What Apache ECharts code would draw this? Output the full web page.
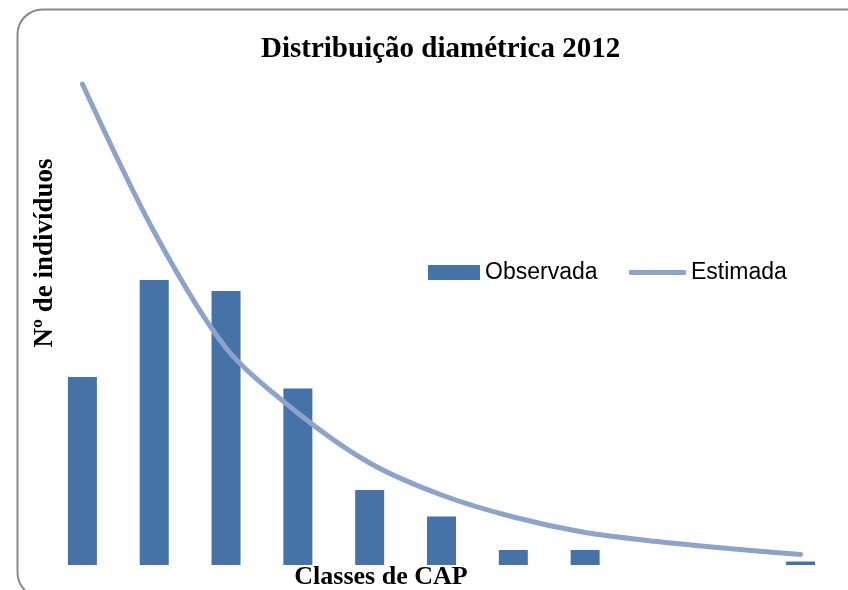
<!DOCTYPE html>
<html>
<head>
<meta charset="utf-8">
<script src="https://cdn.jsdelivr.net/npm/echarts@6/dist/echarts.min.js"></script>
<style>
html, body { margin: 0; padding: 0; background: #fff; }
#chart { width: 848px; height: 590px; }
</style>
</head>
<body>
<div id="chart"></div>
<script>
// classes de CAP (sem rótulos visíveis no gráfico original)
const classes = ['1', '2', '3', '4', '5', '6', '7', '8', '9', '10', '11'];
// frequência observada por classe
const observada = [37.6, 57, 54.8, 35.3, 15, 9.7, 3, 3, 0, 0, 0.7];
// frequência estimada (ajuste)
const estimada = [96.2, 66.6, 43.4, 30.4, 20.4, 14, 9.6, 6.5, 4.7, 3.3, 2.1];

const serif = 'Liberation Serif';
const sans = 'Liberation Sans';
const barColor = '#4572a7';
const lineColor = '#8ca4cc';

let chart = echarts.init(document.getElementById('chart'));
chart.setOption({
    animation: false,
    title: {
        text: 'Distribuição diamétrica 2012',
        left: 261,
        top: 35,
        padding: 0,
        textStyle: {
            fontFamily: serif,
            fontWeight: 'bold',
            fontSize: 29,
            color: '#000'
        }
    },
    legend: [
        {
            left: 428,
            top: 261,
            padding: 0,
            itemWidth: 52,
            itemHeight: 15,
            textStyle: { fontFamily: sans, fontSize: 23, color: '#000' },
            data: [{ name: 'Observada', icon: 'rect' }]
        },
        {
            left: 629,
            top: 261,
            padding: 0,
            itemWidth: 57,
            itemHeight: 5,
            textStyle: { fontFamily: sans, fontSize: 23, color: '#000' },
            data: [{ name: 'Estimada', icon: 'roundRect' }]
        }
    ],
    grid: {
        left: 46.5,
        right: 11.5,
        top: 65,
        bottom: 25
    },
    xAxis: {
        type: 'category',
        data: classes,
        axisLine: { show: false },
        axisTick: { show: false },
        axisLabel: { show: false }
    },
    yAxis: {
        type: 'value',
        min: 0,
        max: 100,
        axisLine: { show: false },
        axisTick: { show: false },
        axisLabel: { show: false },
        splitLine: { show: false }
    },
    graphic: [
        {
            type: 'rect',
            shape: { x: 17.5, y: 9.5, width: 860, height: 588, r: 25 },
            style: { fill: 'none', stroke: '#8a8a8a', lineWidth: 2 },
            z: -1
        },
        {
            type: 'text',
            x: 45,
            y: 253,
            rotation: Math.PI / 2,
            style: {
                text: 'Nº de indivíduos',
                fontFamily: serif,
                fontWeight: 'bold',
                fontSize: 27,
                fill: '#000',
                align: 'center',
                verticalAlign: 'middle'
            }
        },
        {
            type: 'text',
            x: 381,
            y: 577,
            style: {
                text: 'Classes de CAP',
                fontFamily: serif,
                fontWeight: 'bold',
                fontSize: 26,
                fill: '#000',
                align: 'center',
                verticalAlign: 'middle'
            }
        }
    ],
    series: [
        {
            name: 'Observada',
            type: 'bar',
            barWidth: 29,
            data: observada,
            itemStyle: { color: barColor }
        },
        {
            name: 'Estimada',
            type: 'line',
            smooth: 0.3,
            symbol: 'none',
            data: estimada,
            itemStyle: { color: lineColor },
            lineStyle: {
                color: lineColor,
                width: 5,
                cap: 'round'
            },
            z: 3
        }
    ]
});
window.onresize = () => {
    chart.resize();
};
</script>
</body>
</html>
